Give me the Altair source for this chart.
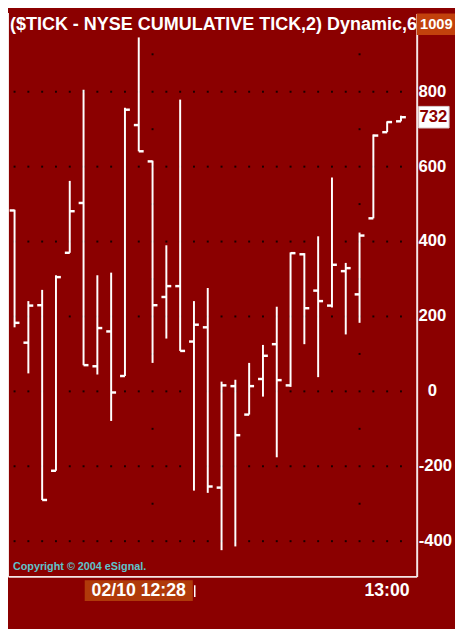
import altair as alt
import pandas as pd

# ---- data ----
times = ["12:10", "12:12", "12:14", "12:16", "12:18", "12:20", "12:22", "12:24",
         "12:26", "12:28", "12:30", "12:32", "12:34", "12:36", "12:38", "12:40",
         "12:42", "12:44", "12:46", "12:48", "12:50", "12:52", "12:54", "12:56",
         "12:58", "13:00", "13:02", "13:04", "13:06"]
opens = [483, 130, 230, -212, 370, 503, 67, 160, 41, 711, 614, 252, 281, 133, 171,
         -257, 14, -62, 33, 126, 16, 366, 269, 229, 321, 259, 462, 692, 721]
highs = [485, 241, 271, 310, 562, 805, 310, 317, 757, 945, 616, 390, 779, 241, 276,
         26, 31, 76, 124, 226, 371, 369, 414, 571, 343, 424, 686, 721, 736]
lows = [171, 48, -290, -212, 370, 70, 45, -79, 41, 641, 76, 141, 108, -265, -271,
        -424, -414, -62, -14, -176, 12, 126, 38, 224, 152, 183, 462, 692, 721]
closes = [183, 229, -290, 305, 481, 70, 169, -3, 752, 641, 230, 281, 108, 178, -254,
          16, -117, 14, 95, 30, 369, 222, 241, 338, 329, 416, 683, 719, 732]

grid_values = [800, 600, 400, 200, 0, -200, -400]
minor_grid_values = [900, 700, 500, 300, 100, -100, -300]
minor_grid_times = ["12:30", "13:00"]
y_min, y_max = -494, 1009
last_value = 732
title_text = "($TICK - NYSE CUMULATIVE TICK,2) Dynamic,6"
cursor_label = "02/10 12:28"
cursor_time = "12:28"
hour_label = "13:00"
hour_time = "13:00"
copyright_text = "Copyright \u00a9 2004 eSignal."


def to_min(t):
    h, m = t.split(":")
    return (int(h) - 12) * 60 + int(m)


mins = [to_min(t) for t in times]
df = pd.DataFrame({"t": mins, "label": times, "o": opens, "h": highs,
                   "l": lows, "c": closes})
dots = pd.DataFrame([{"t": m, "v": v} for v in grid_values for m in mins])
mdots = pd.DataFrame([{"t": to_min(t), "v": v} for v in minor_grid_values
                      for t in minor_grid_times])
pos_labels = pd.DataFrame({"v": [v for v in grid_values if v >= 0]})
pos_labels["s"] = pos_labels["v"].astype(str)
neg_labels = pd.DataFrame({"v": [v for v in grid_values if v < 0]})
neg_labels["s"] = neg_labels["v"].astype(str)

W, H = 416, 573
BG = "#8B0000"
FONT = "Liberation Sans"

xs = alt.Scale(domain=[9.05, 68.28], nice=False, zero=False)
ys = alt.Scale(domain=[y_min, y_max], nice=False, zero=False)
X = alt.X("t:Q", scale=xs, axis=alt.Axis(labels=False, ticks=False, grid=False,
                                          title=None, domainColor="#F4E6E6",
                                          domainWidth=2))

base = alt.Chart(df)

dot_layer = alt.Chart(dots).mark_square(size=4, color="#1a0000", opacity=1).encode(
    x=alt.X("t:Q", scale=xs), y=alt.Y("v:Q", scale=ys))
mdot_layer = alt.Chart(mdots).mark_square(size=4, color="#1a0000", opacity=1).encode(
    x=alt.X("t:Q", scale=xs), y=alt.Y("v:Q", scale=ys))

bars = base.mark_rule(color="white", strokeWidth=2).encode(
    x=X,
    y=alt.Y("l:Q", scale=ys, axis=alt.Axis(
        orient="right", values=grid_values, grid=False, ticks=False,
        labels=False, domainColor="#F4E6E6", domainWidth=2, title=None)),
    y2="h:Q")

open_ticks = base.mark_rule(color="white", strokeWidth=2.5, xOffset=-5,
                            x2Offset=0).encode(
    x=alt.X("t:Q", scale=xs), x2="t:Q", y=alt.Y("o:Q", scale=ys))
close_ticks = base.mark_rule(color="white", strokeWidth=2.5, xOffset=0,
                             x2Offset=5).encode(
    x=alt.X("t:Q", scale=xs), x2="t:Q", y=alt.Y("c:Q", scale=ys))

pos_text = alt.Chart(pos_labels).mark_text(
    align="center", baseline="middle", font=FONT, fontWeight="bold",
    fontSize=17, color="white").encode(
    x=alt.value(W + 16), y=alt.Y("v:Q", scale=ys), text="s:N")
neg_text = alt.Chart(neg_labels).mark_text(
    align="center", baseline="middle", font=FONT, fontWeight="bold",
    fontSize=17, color="white").encode(
    x=alt.value(W + 19), y=alt.Y("v:Q", scale=ys), text="s:N")

left_border = alt.Chart(df).mark_rule(color="#F4E6E6", strokeWidth=2).encode(
    x=alt.value(0), y=alt.value(0), y2=alt.value(H))

title = alt.Chart(pd.DataFrame({"s": [title_text]})).mark_text(
    align="left", baseline="middle", font=FONT, fontWeight="bold",
    fontSize=18.3, color="white").encode(
    x=alt.value(2), y=alt.value(12), text="s:N")

top_box = alt.Chart(pd.DataFrame({"s": [str(y_max)]})).mark_rect(
    color="#C2410C").encode(x=alt.value(416), x2=alt.value(455),
                            y=alt.value(0), y2=alt.value(22))
top_text = alt.Chart(pd.DataFrame({"s": [str(y_max)]})).mark_text(
    align="center", baseline="middle", font=FONT, fontWeight="bold",
    fontSize=15, color="white").encode(x=alt.value(436), y=alt.value(11),
                                       text="s:N")

last_df = pd.DataFrame({"v": [last_value], "s": [str(last_value)]})
last_box = alt.Chart(last_df).mark_rect(
    color="white", stroke="#D8C8C8", strokeWidth=1, yOffset=-11,
    y2Offset=11).encode(x=alt.value(418), x2=alt.value(449),
                        y=alt.Y("v:Q", scale=ys), y2="v:Q")
last_text = alt.Chart(last_df).mark_text(
    align="center", baseline="middle", font=FONT, fontWeight="bold",
    fontSize=17, color=BG).encode(x=alt.value(433), y=alt.Y("v:Q", scale=ys),
                                  text="s:N")

cur_df = pd.DataFrame({"t": [to_min(cursor_time)], "s": [cursor_label]})
cur_box = alt.Chart(cur_df).mark_rect(
    color="#B03A0A", xOffset=-55, x2Offset=55).encode(
    x=alt.X("t:Q", scale=xs), x2="t:Q",
    y=alt.value(H + 4), y2=alt.value(H + 25))
cur_text = alt.Chart(cur_df).mark_text(
    align="center", baseline="middle", font=FONT, fontWeight="bold",
    fontSize=18, color="white").encode(
    x=alt.X("t:Q", scale=xs), y=alt.value(H + 15), text="s:N")
cur_mark = alt.Chart(cur_df).mark_rule(
    color="white", strokeWidth=1.5, xOffset=57, x2Offset=57).encode(
    x=alt.X("t:Q", scale=xs), x2="t:Q",
    y=alt.value(H + 9), y2=alt.value(H + 21))

hour_df = pd.DataFrame({"t": [to_min(hour_time)], "s": [hour_label]})
hour_text = alt.Chart(hour_df).mark_text(
    align="left", baseline="middle", font=FONT, fontWeight="bold",
    fontSize=18, color="white", dx=5).encode(
    x=alt.X("t:Q", scale=xs), y=alt.value(H + 15), text="s:N")

copy_text = alt.Chart(pd.DataFrame({"s": [copyright_text]})).mark_text(
    align="left", baseline="middle", font=FONT, fontWeight="bold",
    fontSize=11, color="#5EC4CC").encode(
    x=alt.value(5), y=alt.value(H - 10), text="s:N")

chart = alt.layer(
    dot_layer, mdot_layer, bars, open_ticks, close_ticks, pos_text, neg_text,
    left_border, title, top_box, top_text, last_box, last_text, cur_box,
    cur_text, cur_mark, hour_text, copy_text
).properties(
    width=W, height=H, background=BG,
    padding={"left": 0, "top": 0, "right": 39, "bottom": 48},
    autosize=alt.AutoSizeParams(type="none"),
).configure_view(stroke=None)

chart.save("out.html", embed_options={"renderer": "svg", "actions": False})
